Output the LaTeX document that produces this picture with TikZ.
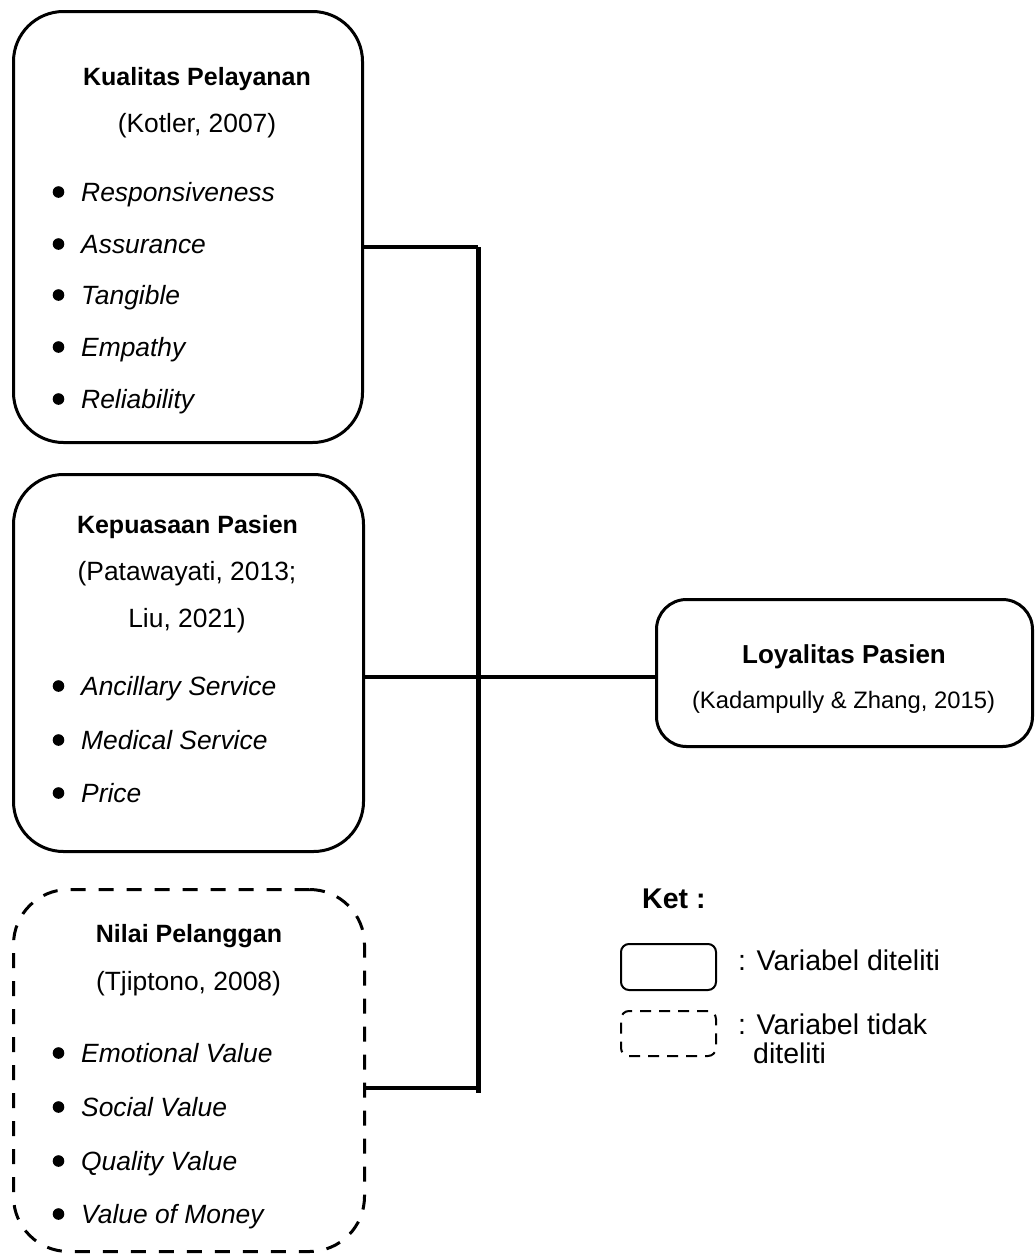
\documentclass[tikz,border=0pt]{standalone}
\usepackage{fontspec}
\setmainfont{Liberation Sans}
\begin{document}
\begin{tikzpicture}[x=1pt,y=-1pt,
  solidbox/.style={draw, line width=3pt, rounded corners=#1, inner sep=0},
  solidbox/.default=50pt,
  dashbox/.style={draw, line width=3pt, rounded corners=55pt, dash pattern=on 15pt off 13pt, inner sep=0},
  ttl/.style={font=\fontsize{25}{30}\selectfont\bfseries, anchor=base, inner sep=0},
  refx/.style={font=\fontsize{26.4}{30}\selectfont, anchor=base, inner sep=0},
  itemx/.style={font=\fontsize{26.4}{30}\selectfont\itshape, anchor=base west, inner sep=0},
  legx/.style={font=\fontsize{28.5}{32}\selectfont, anchor=base west, inner sep=0},
  conn/.style={line width=4pt},
  vconn/.style={line width=5pt}
]
\useasboundingbox (0,0) rectangle (1035,1254);
\newcommand\itm[3]{\fill (58.5,#1-9) circle (5.8); \node[itemx] (#3) at (81,#1) {#2};}

% Boxes
\node[solidbox, minimum width=349pt, minimum height=431pt] (box1) at (188,227) {};
\node[solidbox, minimum width=350pt, minimum height=377pt] (box2) at (188.5,663) {};
\node[dashbox, minimum width=351pt, minimum height=362pt] (box3) at (189,1070.5) {};
\node[solidbox=30pt, minimum width=376pt, minimum height=147pt] (loy) at (844.5,673) {};

% Box 1 text
\node[ttl] (t1) at (197,85) {Kualitas Pelayanan};
\node[refx] (r1) at (197,132) {(Kotler, 2007)};
\itm{201}{Responsiveness}{i11}
\itm{253}{Assurance}{i12}
\itm{304}{Tangible}{i13}
\itm{356}{Empathy}{i14}
\itm{408}{Reliability}{i15}

% Box 2 text
\node[ttl] (t2) at (187.5,533) {Kepuasaan Pasien};
\node[refx] (r2a) at (187,580) {(Patawayati, 2013;};
\node[refx] (r2b) at (187,627) {Liu, 2021)};
\itm{695}{Ancillary Service}{i21}
\itm{749}{Medical Service}{i22}
\itm{802}{Price}{i23}

% Box 3 text
\node[ttl] (t3) at (189,942) {Nilai Pelanggan};
\node[refx] (r3) at (188.5,990) {(Tjiptono, 2008)};
\itm{1062}{Emotional Value}{i31}
\itm{1116}{Social Value}{i32}
\itm{1170}{Quality Value}{i33}
\itm{1223}{Value of Money}{i34}

% Loyalitas text
\node[ttl, font=\fontsize{26}{30}\selectfont\bfseries] (t4) at (844,663) {Loyalitas Pasien};
\node[refx, font=\fontsize{23.8}{28}\selectfont] (r4) at (843.5,708) {(Kadampully \& Zhang, 2015)};

% Connectors
\coordinate (jt) at (478,247);
\coordinate (jb) at (478,1093);
\coordinate (ym) at (478,677);
\coordinate (yb) at (478,1088);
\draw[conn] (box1.east |- jt) -- (jt);
\draw[vconn] (jt) -- (jb);
\draw[conn] (box2.east |- ym) -- (loy.west |- ym);
\draw[conn] (box3.east |- yb) -- (yb);

% Legend
\node[legx, font=\fontsize{28.5}{32}\selectfont\bfseries] (ket) at (642,908) {Ket :};
\node[draw, line width=2pt, rounded corners=8pt, minimum width=95pt, minimum height=46pt, inner sep=0] (ls) at (668.5,967) {};
\node[draw, line width=2pt, rounded corners=8pt, dash pattern=on 11pt off 8pt, minimum width=95pt, minimum height=45pt, inner sep=0] (ld) at (668.5,1033.5) {};
\node[legx] (l1) at (738,970) {: Variabel diteliti};
\node[legx] (l2) at (738,1034) {: Variabel tidak};
\node[legx] (l3) at (753,1063) {diteliti};
\end{tikzpicture}
\end{document}
